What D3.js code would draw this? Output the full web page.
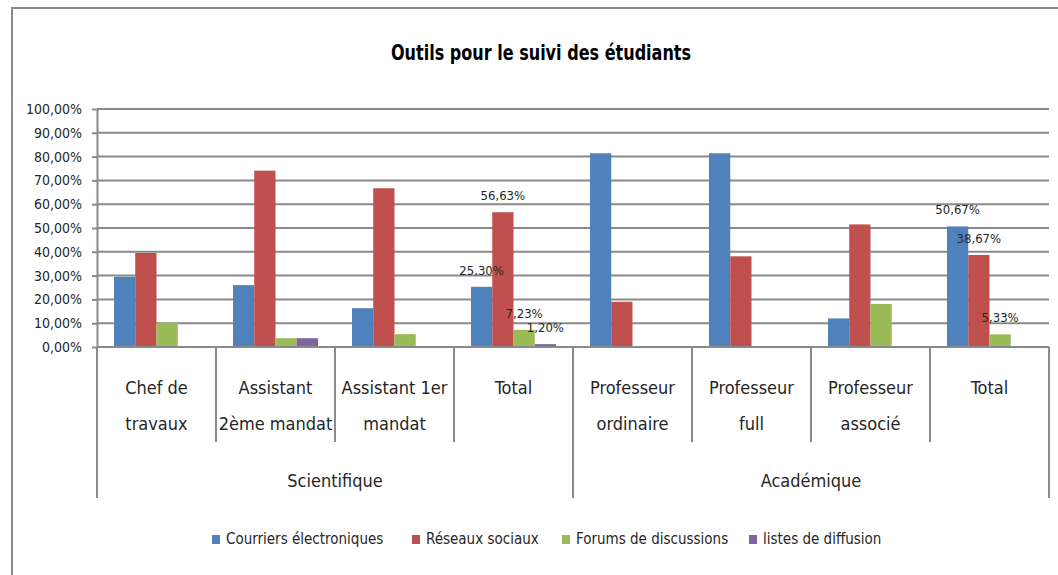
<!DOCTYPE html>
<html>
<head>
<meta charset="utf-8">
<script src="https://cdn.jsdelivr.net/npm/d3@7"></script>
<style>
  body { margin: 0; background: #fff; }
  text { font-family: "Liberation Sans Narrow", "DejaVu Sans Condensed", "Roboto", sans-serif; fill: #262626; }
</style>
</head>
<body>
<div id="chart"></div>
<script>
// data
var categories = ["Chef de|travaux", "Assistant|2ème mandat", "Assistant 1er|mandat", "Total",
                  "Professeur|ordinaire", "Professeur|full", "Professeur|associé", "Total"];
var groups = ["Scientifique", "Académique"];
var groupSize = [4, 4];
var series = ["Courriers électroniques", "Réseaux sociaux", "Forums de discussions", "listes de diffusion"];
var courriers = [0.295, 0.26, 0.163, 0.253, 0.814, 0.814, 0.12, 0.5067];
var reseaux   = [0.395, 0.741, 0.667, 0.5663, 0.19, 0.381, 0.515, 0.3867];
var forums    = [0.102, 0.037, 0.054, 0.0723, 0, 0, 0.181, 0.0533];
var listes    = [0, 0.037, 0, 0.012, 0, 0, 0, 0];
var labelled  = [false, false, false, true, false, false, false, true];
var yTicks = [0, 0.1, 0.2, 0.3, 0.4, 0.5, 0.6, 0.7, 0.8, 0.9, 1];

var color = d3.scaleOrdinal()
    .domain(series)
    .range(["#4F81BD", "#C0504D", "#9BBB59", "#8064A2"]);

var values = [courriers, reseaux, forums, listes];

var W = 1058, H = 575;
var plot = {left: 97, right: 1049, top: 109, bottom: 347};

var fr = d3.formatLocale({decimal: ",", thousands: " ", grouping: [3], currency: ["", "€"]});
var pct = fr.format(".2%");

var svg = d3.select("#chart").append("svg")
    .attr("width", W)
    .attr("height", H);

// outer frame (only top and left edges show in the picture)
svg.append("path")
    .attr("d", "M12," + H + "V8H" + W)
    .style("fill", "none")
    .style("stroke", "#8a8a8a")
    .style("stroke-width", 2);

// title, squeezed a bit to look like the narrow original font
svg.append("text")
    .attr("transform", "translate(541,60) scale(0.85,1)")
    .attr("text-anchor", "middle")
    .style("font-size", "21px")
    .style("font-weight", "bold")
    .style("fill", "#000")
    .text("Outils pour le suivi des étudiants");

var x0 = d3.scaleBand()
    .domain(d3.range(categories.length))
    .range([plot.left, plot.right]);

var x1 = d3.scaleBand()
    .domain(series)
    .range([0, x0.bandwidth()])
    .paddingOuter(0.8);

var y = d3.scaleLinear()
    .domain([0, 1])
    .range([plot.bottom, plot.top]);

// gridlines + y axis
var yAxis = svg.append("g")
    .attr("transform", "translate(" + plot.left + ",0)")
    .call(d3.axisLeft(y).tickValues(yTicks).tickFormat(pct).tickSizeInner(5).tickSizeOuter(0));
yAxis.selectAll(".tick line")
    .style("stroke", "#8a8a8a")
    .style("stroke-width", 2);
yAxis.selectAll(".tick text")
    .attr("x", -15)
    .style("font-size", "14px");
yAxis.select(".domain")
    .style("stroke", "#8a8a8a")
    .style("stroke-width", 2);

svg.append("g")
    .selectAll("line")
    .data(yTicks.filter(function(d) { return d > 0; }))
    .enter()
    .append("line")
    .attr("x1", plot.left)
    .attr("x2", plot.right)
    .attr("y1", function(d) { return y(d); })
    .attr("y2", function(d) { return y(d); })
    .style("stroke", "#8a8a8a")
    .style("stroke-width", 2);

// bars
var rows = categories.map(function(c, i) {
    return series.map(function(s, j) { return {cat: i, s: s, v: values[j][i]}; });
});

var catG = svg.append("g")
    .selectAll("g")
    .data(rows)
    .enter()
    .append("g")
    .attr("transform", function(d, i) { return "translate(" + x0(i) + ",0)"; });

catG.selectAll("rect")
    .data(function(d) { return d.filter(function(e) { return e.v > 0; }); })
    .enter()
    .append("rect")
    .attr("x", function(d) { return x1(d.s); })
    .attr("y", function(d) { return y(d.v); })
    .attr("width", x1.bandwidth())
    .attr("height", function(d) { return y(0) - y(d.v); })
    .style("fill", function(d) { return color(d.s); });

// data labels on the two Total columns
catG.selectAll("text")
    .data(function(d, i) { return labelled[i] ? d.filter(function(e) { return e.v > 0; }) : []; })
    .enter()
    .append("text")
    .attr("x", function(d) { return x1(d.s) + x1.bandwidth() / 2; })
    .attr("y", function(d) { return y(d.v) - 12; })
    .attr("text-anchor", "middle")
    .style("font-size", "13px")
    .text(function(d) { return pct(d.v); });

// x axis: baseline, category ticks and labels, group ticks and labels
var axisY = plot.bottom;
svg.append("line")
    .attr("x1", plot.left).attr("x2", plot.right)
    .attr("y1", axisY).attr("y2", axisY)
    .style("stroke", "#8a8a8a")
    .style("stroke-width", 2);

var bounds = d3.range(categories.length + 1);
svg.append("g")
    .selectAll("line")
    .data(bounds)
    .enter()
    .append("line")
    .attr("x1", function(i) { return i < categories.length ? x0(i) : plot.right; })
    .attr("x2", function(i) { return i < categories.length ? x0(i) : plot.right; })
    .attr("y1", axisY)
    .attr("y2", function(i) { return (i % 4 == 0) ? 498 : 442; })
    .style("stroke", "#8a8a8a")
    .style("stroke-width", 2);

svg.append("g")
    .selectAll("text")
    .data(categories)
    .enter()
    .append("text")
    .attr("x", function(d, i) { return x0(i) + x0.bandwidth() / 2; })
    .attr("y", 394)
    .attr("text-anchor", "middle")
    .style("font-size", "18px")
    .each(function(d) {
        var lines = d.split("|");
        var t = d3.select(this);
        lines.forEach(function(l, k) {
            t.append("tspan")
                .attr("x", t.attr("x"))
                .attr("dy", k == 0 ? 0 : 36)
                .text(l);
        });
    });

var start = 0;
groups.forEach(function(g, k) {
    var a = x0(start), b = start + groupSize[k] < categories.length ? x0(start + groupSize[k]) : plot.right;
    svg.append("text")
        .attr("x", (a + b) / 2)
        .attr("y", 487)
        .attr("text-anchor", "middle")
        .style("font-size", "18px")
        .text(g);
    start += groupSize[k];
});

// legend
var legendX = [212, 412, 562, 749];
var legend = svg.append("g")
    .selectAll("g")
    .data(series)
    .enter()
    .append("g")
    .attr("transform", function(d, i) { return "translate(" + legendX[i] + ",539)"; });
legend.append("rect")
    .attr("x", 0)
    .attr("y", -4)
    .attr("width", 8)
    .attr("height", 9)
    .style("fill", function(d) { return color(d); });
legend.append("text")
    .attr("x", 14)
    .attr("y", 5)
    .style("font-size", "15px")
    .text(function(d) { return d; });
</script>
</body>
</html>
